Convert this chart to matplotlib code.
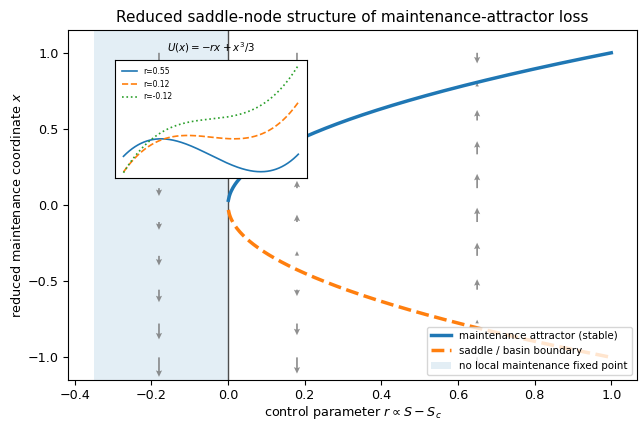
import numpy as np
import matplotlib
matplotlib.use("Agg")
import matplotlib.pyplot as plt

# control parameter range and the two fixed-point branches x* = +/- sqrt(r)
r_min, r_max = -0.35, 1.0
r_branch = np.linspace(1e-3, r_max, 400)
x_stable = np.sqrt(r_branch)
x_saddle = -np.sqrt(r_branch)

# flow field dx/dt = r - x^2 sampled on a few columns
arrow_r = [-0.18, 0.18, 0.65]
arrow_x = np.linspace(-1.0, 1.0, 10)

# inset potentials U(x) = -r x + x^3/3, shifted for readability
inset_r = [0.55, 0.12, -0.12]
inset_shift = [0.0, 0.3, 0.6]
inset_styles = ["-", "--", ":"]
x_pot = np.linspace(-1.3, 1.3, 300)

fig = plt.figure(figsize=(6.41, 4.22), dpi=100)
ax = fig.add_axes([0.106, 0.099, 0.888, 0.830])

ax.axvspan(r_min, 0.0, color="C0", alpha=0.12, lw=0,
           label="no local maintenance fixed point")
ax.axvline(0.0, color="0.3", lw=1.0)

for r in arrow_r:
    flow = r - arrow_x ** 2
    # arrow length ~ sqrt(|dx/dt|) so weak flow is still visible
    v = np.sign(flow) * np.sqrt(np.abs(flow))
    ax.quiver(np.full_like(arrow_x, r), arrow_x, np.zeros_like(arrow_x), v,
              angles="xy", scale_units="xy", scale=8.5, width=0.003,
              headwidth=3.6, headlength=3.8, headaxislength=3.3,
              color="0.45", alpha=0.8)

ax.plot(r_branch, x_stable, color="C0", lw=2.5,
        label="maintenance attractor (stable)")
ax.plot(r_branch, x_saddle, color="C1", lw=2.5, ls="--",
        label="saddle / basin boundary")

ax.set_xlim(-0.4175, 1.0675)
ax.set_ylim(-1.15, 1.15)
ax.tick_params(labelsize=9.2, pad=3.0)
ax.set_xlabel(r"control parameter $r \propto S - S_c$", fontsize=9.2,
              labelpad=1.0)
ax.set_ylabel(r"reduced maintenance coordinate $x$", fontsize=9.2,
              labelpad=2.5)
ax.set_title("Reduced saddle-node structure of maintenance-attractor loss",
             fontsize=11)

handles, labels = ax.get_legend_handles_labels()
order = [1, 2, 0]
ax.legend([handles[i] for i in order], [labels[i] for i in order],
          loc="lower right", fontsize=7.4)

ins = fig.add_axes([0.179, 0.578, 0.30, 0.28])
for r, s, ls in zip(inset_r, inset_shift, inset_styles):
    ins.plot(x_pot, -r * x_pot + x_pot ** 3 / 3 + s, ls=ls, lw=1.2,
             label=f"r={r}")
ins.set_xticks([])
ins.set_yticks([])
ins.set_title(r"$U(x)=-rx+x^3/3$", fontsize=7.4)
ins.legend(loc="upper left", fontsize=5.5, frameon=False)

fig.savefig("out.png")
